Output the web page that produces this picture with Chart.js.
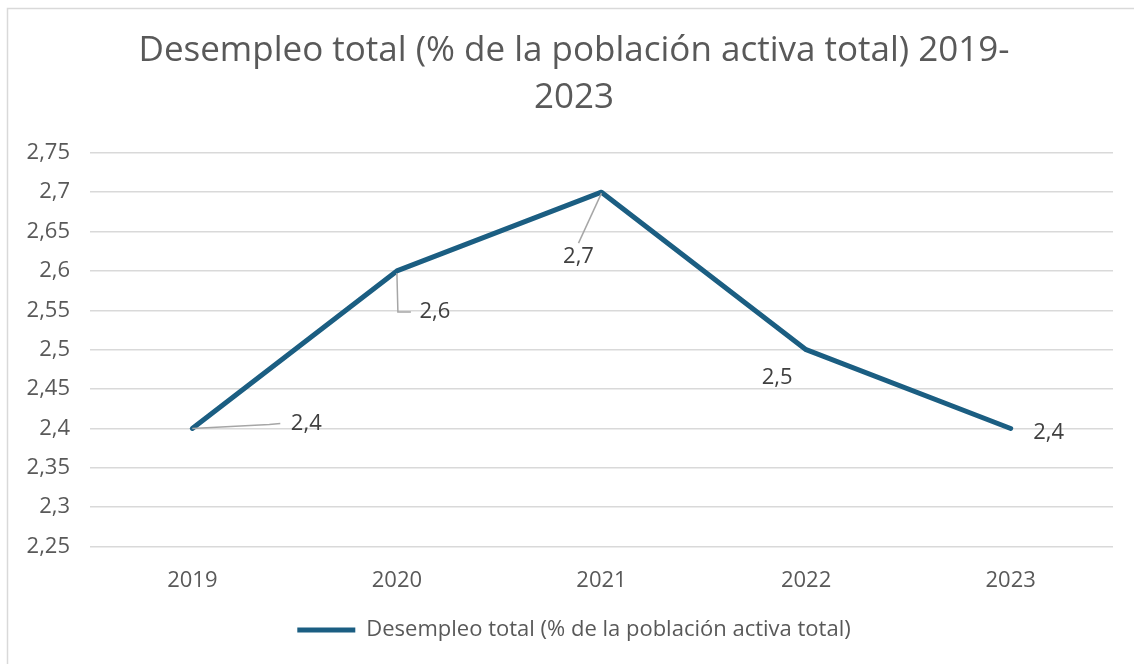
<!DOCTYPE html>
<html>
<head>
<meta charset="utf-8">
<script src="https://cdn.jsdelivr.net/npm/chart.js@4.4.1/dist/chart.umd.min.js"></script>
<style>
  body { margin: 0; background: #fff; }
  #wrap { position: relative; width: 1134px; height: 664px; }
</style>
</head>
<body>
<div id="wrap"><canvas id="myChart"></canvas></div>
<script>
// chart data
const years = ['2019', '2020', '2021', '2022', '2023'];
const unemployment = [2.4, 2.6, 2.7, 2.5, 2.4];
const yTicks = [2.25, 2.3, 2.35, 2.4, 2.45, 2.5, 2.55, 2.6, 2.65, 2.7, 2.75];
const seriesName = 'Desempleo total (% de la población activa total)';
const titleLines = ['Desempleo total (% de la población activa total) 2019-', '2023'];

const FONT = "'Open Sans', sans-serif";
const fmt = v => String(Number(v.toFixed(2))).replace('.', ',');

// where each value label sits relative to its point, plus leader line pieces
const labelPlacement = [
    { dx: 114, dy: -5, leader: [[0, 0], [77, -4], [88, -5]] },
    { dx: 38, dy: 41, leader: [[0, 2], [1, 41], [14, 41]] },
    { dx: -23, dy: 65, leader: [[0, 1], [-23, 51]] },
    { dx: -29, dy: 28, leader: null },
    { dx: 38, dy: 4, leader: null }
];

const framePlugin = {
    id: 'frame',
    beforeDraw(chart) {
        const c = chart.ctx;
        c.save();
        c.fillStyle = '#fff';
        c.fillRect(0, 0, chart.width, chart.height);
        c.strokeStyle = '#d9d9d9';
        c.lineWidth = 1.5;
        c.beginPath();
        c.moveTo(7.5, chart.height);
        c.lineTo(7.5, 8.5);
        c.lineTo(chart.width, 8.5);
        c.stroke();
        c.restore();
    }
};

const valueLabels = {
    id: 'valueLabels',
    afterDatasetsDraw(chart) {
        const c = chart.ctx;
        const meta = chart.getDatasetMeta(0);
        c.save();
        meta.data.forEach((pt, i) => {
            const p = labelPlacement[i];
            if (p.leader) {
                c.strokeStyle = '#a6a6a6';
                c.lineWidth = 1.5;
                c.beginPath();
                p.leader.forEach(([lx, ly], j) => {
                    if (j === 0) c.moveTo(pt.x + lx, pt.y + ly);
                    else c.lineTo(pt.x + lx, pt.y + ly);
                });
                c.stroke();
            }
            c.fillStyle = '#404040';
            c.font = '22px ' + FONT;
            c.textAlign = 'center';
            c.textBaseline = 'middle';
            c.fillText(fmt(unemployment[i]), pt.x + p.dx, pt.y + p.dy);
        });
        c.restore();
    }
};

const ctx = document.getElementById('myChart').getContext('2d');
const myChart = new Chart(ctx, {
    type: 'line',
    data: {
        labels: years,
        datasets: [{
            label: seriesName,
            data: unemployment,
            borderColor: '#1b5e82',
            backgroundColor: '#1b5e82',
            borderWidth: 5,
            borderCapStyle: 'round',
            borderJoinStyle: 'round',
            pointRadius: 0,
            tension: 0
        }]
    },
    options: {
        responsive: true,
        maintainAspectRatio: false,
        animation: false,
        layout: { padding: { left: 14, right: 0, top: 0, bottom: 13 } },
        plugins: {
            title: {
                display: true,
                text: titleLines,
                color: '#595959',
                font: { family: FONT, size: 35, weight: 'normal', lineHeight: 1.34 },
                padding: { top: 28, bottom: 31 }
            },
            legend: {
                position: 'bottom',
                labels: {
                    usePointStyle: true,
                    pointStyle: 'line',
                    pointStyleWidth: 58,
                    color: '#595959',
                    font: { family: FONT, size: 22 },
                    padding: 12
                }
            },
            tooltip: { enabled: false }
        },
        scales: {
            x: {
                offset: true,
                grid: { display: false },
                border: { display: false },
                ticks: { color: '#595959', font: { family: FONT, size: 22 }, padding: 13 }
            },
            y: {
                min: 2.25,
                max: 2.75,
                afterBuildTicks: axis => { axis.ticks = yTicks.map(v => ({ value: v })); },
                afterFit: axis => { axis.width = 76; },
                grid: { color: '#d9d9d9', lineWidth: 1.5, drawTicks: false },
                border: { display: false },
                ticks: {
                    color: '#595959',
                    font: { family: FONT, size: 22 },
                    padding: 20,
                    callback: v => fmt(v)
                }
            },
            // empty right-hand spacer so the plot ends where the original does
            y2: {
                position: 'right',
                min: 2.25,
                max: 2.75,
                afterFit: axis => { axis.width = 21; },
                grid: { display: false },
                border: { display: false },
                ticks: { display: false }
            }
        }
    },
    plugins: [framePlugin, valueLabels]
});
</script>
</body>
</html>
